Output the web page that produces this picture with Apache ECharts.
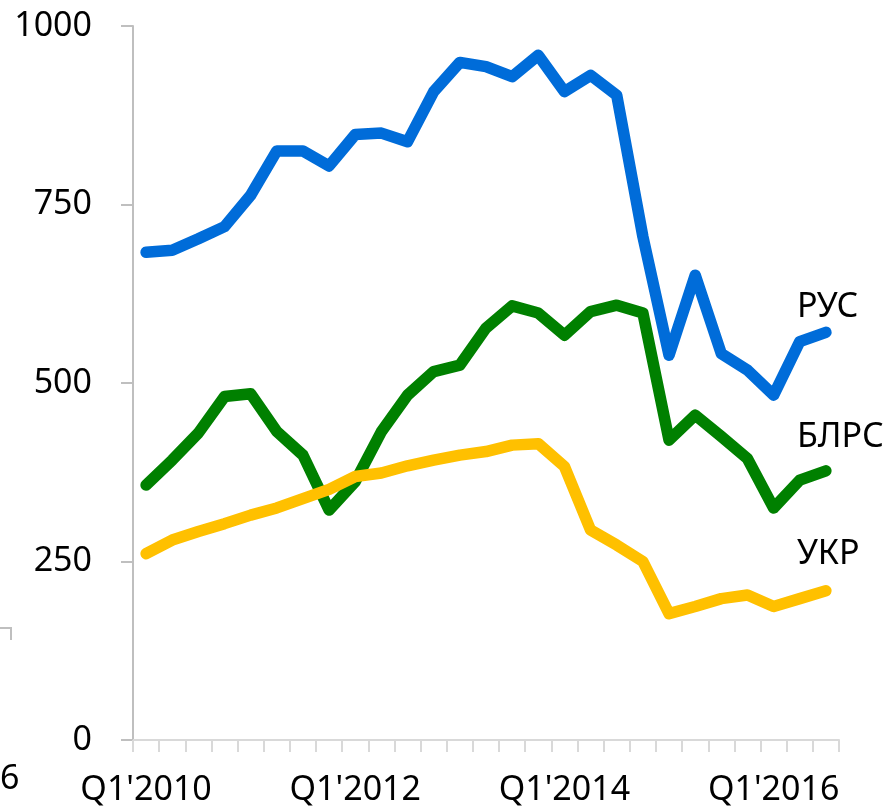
<!DOCTYPE html>
<html lang="ru">
  <head>
    <meta charset="UTF-8" />
    <title>Зарплаты</title>
    <script src="https://cdn.jsdelivr.net/npm/echarts@6.0.0/dist/echarts.min.js"></script>
    <style>
      html, body { margin: 0; padding: 0; background: #fff; }
      #chart { width: 888px; height: 811px; }
    </style>
  </head>
  <body>
    <div id="chart"></div>

    <script>
      // кварталы Q1'2010 .. Q3'2016
      var quarters = []
      for (var y = 2010; y <= 2016; y++) {
        for (var q = 1; q <= 4; q++) {
          if (y === 2016 && q > 3) break
          quarters.push("Q" + q + "'" + y)
        }
      }

      var rus = [683, 686, 702, 719, 763, 825, 825, 804, 848, 850, 838, 908, 949, 943,
        929, 959, 908, 931, 903, 705, 539, 651, 541, 518, 483, 558, 571]
      var blrs = [357, 392, 430, 481, 485, 432, 399, 322, 362, 432, 483, 516, 525, 577,
        608, 598, 567, 600, 609, 598, 420, 455, 425, 394, 325, 364, 377]
      var ukr = [261, 280, 292, 303, 315, 325, 338, 351, 369, 374, 384, 392, 399, 404,
        413, 415, 383, 294, 273, 250, 177, 187, 198, 203, 187, 198, 209]

      var yTicks = [0, 250, 500, 750, 1000]
      var font = "Noto Sans"

      var chart = echarts.init(document.getElementById("chart"))

      function line(name, data, color, dy) {
        return {
          name: name,
          type: "line",
          data: data,
          showSymbol: false,
          animation: false,
          lineStyle: { width: 11.5, color: color, cap: "round", join: "round" },
          itemStyle: { color: color },
          endLabel: {
            show: true,
            formatter: name,
            fontFamily: font,
            fontSize: 34,
            color: "#000",
            align: "left",
            verticalAlign: "bottom",
            offset: [-37, dy],
          },
        }
      }

      var option = {
        backgroundColor: "#fff",
        grid: { left: 133, right: 49, top: 26, bottom: 71 },
        xAxis: {
          type: "category",
          data: quarters,
          boundaryGap: true,
          axisLine: { lineStyle: { color: "#d9d9d9", width: 2 } },
          axisTick: { show: true, interval: 0, length: 12, lineStyle: { color: "#d9d9d9", width: 2 } },
          axisLabel: {
            interval: 7,
            margin: 33,
            fontFamily: font,
            fontSize: 34,
            color: "#000",
          },
        },
        yAxis: {
          type: "value",
          min: yTicks[0],
          max: yTicks[yTicks.length - 1],
          interval: 250,
          splitLine: { show: false },
          axisLine: { show: true, lineStyle: { color: "#bfbfbf", width: 2 } },
          axisTick: { show: true, length: 12, lineStyle: { color: "#bfbfbf", width: 2 } },
          axisLabel: {
            margin: 41,
            fontFamily: font,
            fontSize: 34,
            color: "#000",
            formatter: function (v) { return String(v) },
          },
        },
        series: [
          line("РУС", rus, "#006cd9", -8),
          line("БЛРС", blrs, "#008000", -17),
          line("УКР", ukr, "#ffc000", -19),
        ],
        graphic: [
          {
            type: "text",
            left: 0,
            top: 762,
            style: { text: "6", font: "34px " + font, fill: "#000" },
          },
          {
            type: "polyline",
            shape: { points: [[0, 628], [11, 628], [11, 640]] },
            style: { stroke: "#bfbfbf", lineWidth: 2, fill: null },
          },
        ],
      }
      chart.setOption(option)
    </script>
  </body>
</html>
